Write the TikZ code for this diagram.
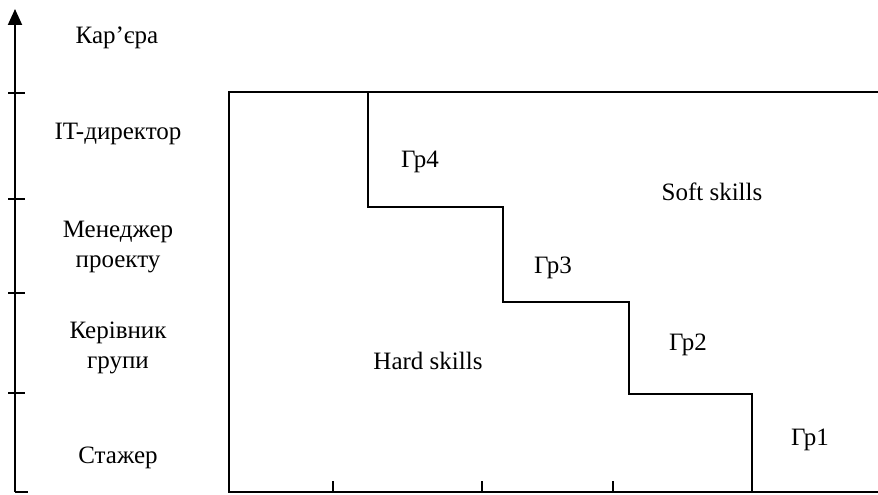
\documentclass[tikz,border=0pt]{standalone}
\usepackage{fontspec}
\setmainfont{Liberation Serif}
\usetikzlibrary{arrows.meta}
\begin{document}
\begin{tikzpicture}[x=1pt,y=-1pt,
  ln/.style={line width=2pt},
  lbl/.style={font=\fontsize{25}{30}\selectfont, align=center, inner sep=0pt},
  tk/.style={line width=1.8pt}]
\useasboundingbox (0,0) rectangle (878,495);
% axis
\coordinate (o) at (15,492);
\coordinate (top) at (15,9);
\coordinate (foot) at (28,492);
\draw[ln,-{Triangle[length=16pt,width=14pt]}] (o) -- (top);
\draw[ln] (o) -- (foot);
\foreach \yy in {93,199,293,393}{
  \draw[tk] (8,\yy) -- (25,\yy);
}
% rectangle
\coordinate (rtl) at (229,92);
\coordinate (rbl) at (229,492);
\coordinate (rtr) at (879,92);
\coordinate (rbr) at (879,492);
\draw[ln] (rtr) -- (rtl) -- (rbl) -- (rbr);
% staircase
\coordinate (s0) at (368,92);
\coordinate (s1) at (368,207);
\coordinate (s2) at (503,207);
\coordinate (s3) at (503,302);
\coordinate (s4) at (629,302);
\coordinate (s5) at (629,394);
\coordinate (s6) at (752,394);
\coordinate (s7) at (752,492);
\draw[ln] (s0) -- (s1) -- (s2) -- (s3) -- (s4) -- (s5) -- (s6) -- (s7);
% bottom ticks
\foreach \xx in {333,482,613}{
  \draw[tk] (\xx,492) -- (\xx,481);
}
% labels
\node[lbl] (kar) at (117,38) {Кар’єра};
\node[lbl] (itd) at (118,134) {IT-директор};
\node[lbl] (men) at (118,247) {Менеджер\\проекту};
\node[lbl] (ker) at (118,348) {Керівник\\групи};
\node[lbl] (sta) at (118,458) {Стажер};
\node[lbl] (g4) at (420,162) {Гр4};
\node[lbl] (g3) at (553,268) {Гр3};
\node[lbl] (g2) at (688,345) {Гр2};
\node[lbl] (g1) at (810,440) {Гр1};
\node[lbl] (soft) at (712,192) {Soft skills};
\node[lbl] (hard) at (428,361) {Hard skills};
\end{tikzpicture}
\end{document}
